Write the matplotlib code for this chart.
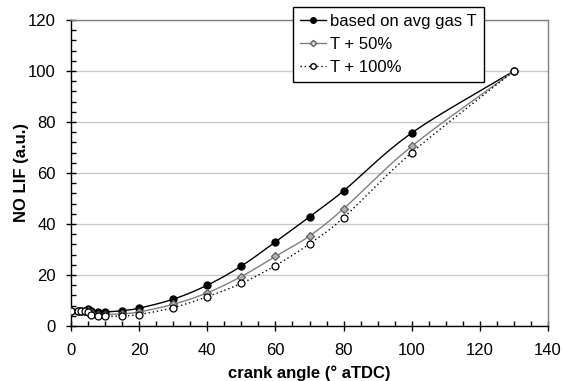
import numpy as np
import matplotlib
matplotlib.use("Agg")
import matplotlib.pyplot as plt
from matplotlib.ticker import MultipleLocator
from matplotlib.lines import Line2D

plt.rcParams['font.family'] = ['Liberation Sans', 'DejaVu Sans']

crank = [0, 2, 3, 4, 5, 6, 8, 10, 15, 20, 30, 40, 50, 60, 70, 80, 100, 130]
avg_gas = [6, 6, 6, 6, 6.5, 6, 5.5, 5.5, 6, 7, 10.5, 16, 23.5, 33, 42.8, 53, 75.7, 100]
t_plus_50 = [6, 6, 6, 6, 6, 5, 4.5, 4.5, 4.8, 5.5, 8.5, 13, 19.4, 27.3, 35.3, 46, 70.5, 100]
t_plus_100 = [6, 6, 6, 6, 5.5, 4.5, 3.8, 3.8, 3.9, 4.5, 7.2, 11.5, 16.7, 23.7, 32.2, 42.5, 68, 100]
labels = ["based on avg gas T", "T + 50%", "T + 100%"]


def smooth(x, y, n=20):
    # Catmull-Rom style smoothing (similar to Excel smoothed lines)
    x = np.asarray(x, float)
    y = np.asarray(y, float)
    px = np.concatenate([[2 * x[0] - x[1]], x, [2 * x[-1] - x[-2]]])
    py = np.concatenate([[2 * y[0] - y[1]], y, [2 * y[-1] - y[-2]]])
    xs, ys = [], []
    t = np.linspace(0, 1, n, endpoint=False)
    for i in range(1, len(px) - 2):
        p0, p1, p2, p3 = (np.array([px[j], py[j]]) for j in (i - 1, i, i + 1, i + 2))
        b1 = p1 + (p2 - p0) / 6.0
        b2 = p2 - (p3 - p1) / 6.0
        pts = ((1 - t) ** 3)[:, None] * p1 + (3 * (1 - t) ** 2 * t)[:, None] * b1 \
            + (3 * (1 - t) * t ** 2)[:, None] * b2 + (t ** 3)[:, None] * p2
        xs.append(pts[:, 0])
        ys.append(pts[:, 1])
    xs.append([x[-1]])
    ys.append([y[-1]])
    return np.concatenate(xs), np.concatenate(ys)


fig = plt.figure(figsize=(5.63, 3.81), dpi=100)
ax = fig.add_axes([0.1261, 0.1444, 0.8473, 0.8031])

ax.set_xlim(0, 140)
ax.set_ylim(0, 120)
ax.xaxis.set_major_locator(MultipleLocator(20))
ax.xaxis.set_minor_locator(MultipleLocator(5))
ax.yaxis.set_major_locator(MultipleLocator(20))
ax.yaxis.set_minor_locator(MultipleLocator(4))

ax.grid(axis='y', which='major', color='#c8c8c8', linewidth=1.0)
ax.set_axisbelow(True)

for s in ('top', 'right'):
    ax.spines[s].set_color('#808080')
    ax.spines[s].set_linewidth(1.0)
for s in ('left', 'bottom'):
    ax.spines[s].set_color('black')
    ax.spines[s].set_linewidth(1.0)

ax.tick_params(which='major', direction='inout', length=7, width=1, labelsize=12)
ax.tick_params(which='minor', direction='in', length=3.5, width=1)
ax.tick_params(axis='x', which='major', pad=9)
ax.tick_params(axis='y', which='major', pad=7.5)

# series 1
sx, sy = smooth(crank, avg_gas)
ax.plot(sx, sy, color='black', lw=1.0, zorder=3)
ax.plot(crank, avg_gas, ls='none', marker='o', ms=5, mfc='black', mec='black', zorder=4)
# series 2
sx, sy = smooth(crank, t_plus_50)
ax.plot(sx, sy, color='#808080', lw=1.0, zorder=3)
ax.plot(crank, t_plus_50, ls='none', marker='D', ms=3.8, mfc='#b0b0b0', mec='#606060', mew=0.9, zorder=5)
# series 3
sx, sy = smooth(crank, t_plus_100)
ax.plot(sx, sy, color='black', lw=1.0, ls=(0, (1, 2)), zorder=3)
ax.plot(crank, t_plus_100, ls='none', marker='o', ms=5, mfc='white', mec='black', mew=0.9, zorder=6)

ax.set_xlabel('crank angle (° aTDC)', fontsize=12, fontweight='bold', labelpad=5)
ax.set_ylabel('NO LIF (a.u.)', fontsize=12, fontweight='bold')
ax.yaxis.set_label_coords(-0.088, 0.5)

handles = [
    Line2D([], [], color='black', lw=1.0, marker='o', ms=4, mfc='black', mec='black'),
    Line2D([], [], color='#808080', lw=1.0, marker='D', ms=3.2, mfc='#d8d8d8', mec='#606060'),
    Line2D([], [], color='black', lw=1.0, ls=(0, (1, 2)), marker='o', ms=4, mfc='white', mec='black'),
]
leg = fig.legend(handles, labels, loc='upper left', bbox_to_anchor=(293 / 563, 1 - 7 / 381),
                 fontsize=12, frameon=True, fancybox=False, edgecolor='black', framealpha=1,
                 handlelength=1.6, handletextpad=0.25, borderpad=0.4, labelspacing=0.5,
                 borderaxespad=0)
leg.get_frame().set_linewidth(1.0)
leg.set_zorder(10)

fig.savefig('out.png', dpi=100)
